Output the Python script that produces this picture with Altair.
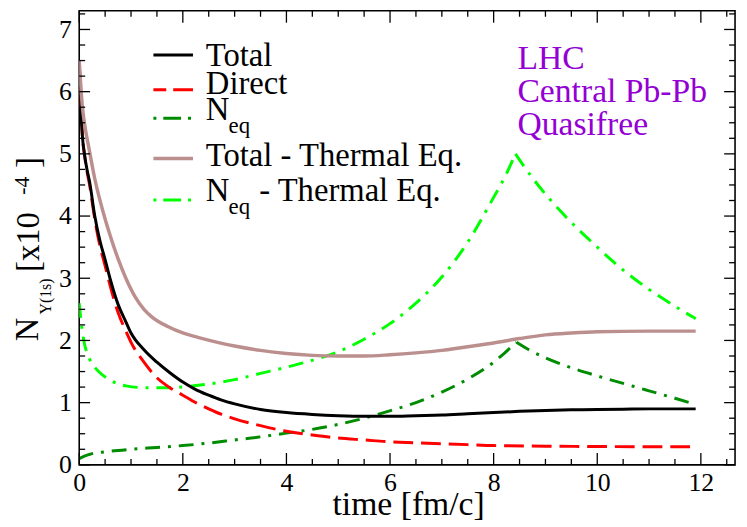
import altair as alt
import pandas as pd

# ---------------- data ----------------
t_total = [0, 0.03, 0.06, 0.1, 0.15, 0.2, 0.3, 0.4, 0.5, 0.6, 0.75, 0.9, 1.0, 1.25, 1.5, 1.75, 2.0, 2.25, 2.5, 2.75,
           3.0, 3.5, 4.0, 4.5, 5.0, 5.5, 6.0, 6.5, 7.0, 7.5, 8.0, 8.5, 9.0, 9.5, 10, 10.5, 11, 11.5, 11.9]
v_total = [6.5, 5.8, 5.3, 5.0, 4.75, 4.55, 4.0, 3.6, 3.3, 2.98, 2.58, 2.3, 2.12, 1.85, 1.65, 1.48, 1.33, 1.21, 1.12, 1.04,
           0.98, 0.89, 0.84, 0.81, 0.79, 0.78, 0.78, 0.79, 0.8, 0.82, 0.84, 0.86, 0.875, 0.885, 0.89, 0.895, 0.9, 0.9, 0.9]

t_direct = [0, 0.03, 0.06, 0.1, 0.15, 0.2, 0.3, 0.4, 0.5, 0.6, 0.75, 0.9, 1.0, 1.25, 1.5, 1.75, 2.0, 2.25, 2.5, 2.75,
            3.0, 3.5, 4.0, 4.5, 5.0, 5.5, 6.0, 6.5, 7.0, 7.5, 8.0, 9.0, 10, 11, 11.9]
v_direct = [6.5, 5.8, 5.3, 5.0, 4.72, 4.5, 3.95, 3.52, 3.2, 2.87, 2.45, 2.15, 1.97, 1.65, 1.4, 1.24, 1.12, 1.0, 0.9, 0.81,
            0.74, 0.63, 0.54, 0.48, 0.43, 0.4, 0.37, 0.355, 0.34, 0.325, 0.31, 0.3, 0.295, 0.29, 0.29]

t_neq = [0, 0.1, 0.25, 0.5, 1, 1.5, 2, 2.5, 3, 3.5, 4, 4.5, 5, 5.5, 6, 6.5, 7, 7.5, 8, 8.2, 8.44, 8.7, 9, 9.5, 10,
         10.5, 11, 11.5, 11.9]
v_neq = [0.1, 0.14, 0.18, 0.21, 0.25, 0.28, 0.31, 0.35, 0.4, 0.45, 0.51, 0.57, 0.65, 0.75, 0.87, 1.0, 1.17, 1.38, 1.65,
         1.79, 1.97, 1.84, 1.72, 1.56, 1.43, 1.31, 1.19, 1.07, 0.97]

t_total_th = [0, 0.03, 0.06, 0.1, 0.19, 0.3, 0.44, 0.6, 0.76, 0.9, 1.08, 1.25, 1.4, 1.72, 2.0, 2.29, 2.67, 3.0, 3.5,
              4.0, 4.5, 5.0, 5.5, 6.0, 6.5, 7.0, 7.5, 8.0, 8.5, 9.0, 9.5, 10, 11, 11.9]
v_total_th = [6.5, 6.1, 5.77, 5.5, 5.08, 4.6, 4.13, 3.68, 3.29, 3.0, 2.7, 2.5, 2.38, 2.22, 2.12, 2.05, 1.97, 1.91, 1.84,
              1.79, 1.76, 1.75, 1.75, 1.77, 1.8, 1.84, 1.9, 1.96, 2.03, 2.09, 2.12, 2.14, 2.15, 2.15]

t_neq_th = [0, 0.03, 0.06, 0.1, 0.15, 0.2, 0.3, 0.4, 0.6, 0.9, 1.3, 1.7, 2.3, 3, 3.5, 4, 4.5, 5, 5.5, 6, 6.5, 7, 7.5,
            8, 8.2, 8.42, 8.78, 9.29, 10, 10.43, 11, 11.5, 11.9]
v_neq_th = [2.6, 2.35, 2.15, 1.95, 1.8, 1.7, 1.57, 1.48, 1.36, 1.27, 1.24, 1.24, 1.28, 1.37, 1.47, 1.57, 1.68, 1.82,
            2.02, 2.27, 2.6, 3.02, 3.58, 4.3, 4.6, 5.0, 4.58, 4.08, 3.5, 3.18, 2.82, 2.55, 2.35]

x_major = [0, 2, 4, 6, 8, 10, 12]
x_minor = [0.5, 1, 1.5, 2.5, 3, 3.5, 4.5, 5, 5.5, 6.5, 7, 7.5, 8.5, 9, 9.5, 10.5, 11, 11.5, 12.5]
y_major = [0, 1, 2, 3, 4, 5, 6, 7]
y_minor = [0.25, 0.5, 0.75, 1.25, 1.5, 1.75, 2.25, 2.5, 2.75, 3.25, 3.5, 3.75, 4.25, 4.5, 4.75,
           5.25, 5.5, 5.75, 6.25, 6.5, 6.75, 7.25]

legend_labels = ["Total", "Direct", "N", "Total - Thermal Eq.", "N"]
info_lines = ["LHC", "Central Pb-Pb", "Quasifree"]

# ---------------- layout ----------------
W, H = 663, 459
XMAX, YMAX = 12.66, 7.30
FONT = "Liberation Serif"

xs = alt.Scale(domain=[0, XMAX], nice=False, zero=False)
ys = alt.Scale(domain=[0, YMAX], nice=False, zero=False)

x_axis = alt.Axis(values=x_major, format="d", ticks=False, tickSize=0, domain=False, grid=False,
                  labelFont=FONT, labelFontSize=26, labelColor="black", labelPadding=5, title=None,
                  labelFlush=False)
y_axis = alt.Axis(values=y_major, format="d", ticks=False, tickSize=0, domain=False, grid=False,
                  labelFont=FONT, labelFontSize=26, labelColor="black", labelPadding=8, title=None)


def series(t, v, color, width, dash=None, offset=0):
    """Line through the series; peaked series are split at the peak so the cusp stays sharp."""
    imax = max(range(len(v)), key=lambda i: v[i])
    parts = [(0, len(v))] if imax in (0, len(v) - 1) else [(0, imax + 1), (imax, len(v))]
    out = []
    for a, b in parts:
        df = pd.DataFrame({"t": t[a:b], "v": v[a:b]})
        kw = dict(color=color, strokeWidth=width, clip=True, interpolate="monotone")
        if dash:
            kw["strokeDash"] = dash
            kw["strokeDashOffset"] = offset
        out.append(alt.Chart(df).mark_line(**kw).encode(
            x=alt.X("t:Q", scale=xs, axis=x_axis),
            y=alt.Y("v:Q", scale=ys, axis=y_axis),
        ))
    return out


DASH = [20, 8]
DASHDOT = [15, 8, 3, 8]
GREEN = "#008C00"
LGREEN = "#00FF00"
RED = "#FF0000"
BROWN = "#BC8F8F"
PURPLE = "#9400D3"

lines = (series(t_neq, v_neq, GREEN, 3, DASHDOT)
         + series(t_neq_th, v_neq_th, LGREEN, 3, DASHDOT)
         + series(t_direct, v_direct, RED, 3, DASH)
         + series(t_total, v_total, "black", 3)
         + series(t_total_th, v_total_th, BROWN, 3.5))


# ticks (inward, on all four sides)
def xticks(vals, length):
    df = pd.DataFrame({"t": vals})
    b = alt.Chart(df).mark_rule(color="black", strokeWidth=1.3).encode(
        x=alt.X("t:Q", scale=xs), y=alt.value(H), y2=alt.value(H - length))
    t = alt.Chart(df).mark_rule(color="black", strokeWidth=1.3).encode(
        x=alt.X("t:Q", scale=xs), y=alt.value(0), y2=alt.value(length))
    return [b, t]


def yticks(vals, length):
    df = pd.DataFrame({"v": vals})
    l = alt.Chart(df).mark_rule(color="black", strokeWidth=1.3).encode(
        y=alt.Y("v:Q", scale=ys), x=alt.value(0), x2=alt.value(length))
    r = alt.Chart(df).mark_rule(color="black", strokeWidth=1.3).encode(
        y=alt.Y("v:Q", scale=ys), x=alt.value(W), x2=alt.value(W - length))
    return [l, r]


ticks = xticks(x_major, 12) + xticks(x_minor, 6) + yticks(y_major, 11) + yticks(y_minor, 6)


# text helpers (pixel placement of annotations)
def txt(s, x, y, size, color="black", angle=0, align="left", baseline="alphabetic"):
    kw = dict(text=s, font=FONT, fontSize=size, color=color, align=align, baseline=baseline)
    if angle:
        kw["angle"] = angle
    return alt.Chart(pd.DataFrame({"a": [0]})).mark_text(**kw).encode(
        x=alt.value(x), y=alt.value(y))


def seg(x1, x2, y, color, width, dash=None, offset=0):
    kw = dict(color=color, strokeWidth=width)
    if dash:
        kw["strokeDash"] = dash
        kw["strokeDashOffset"] = offset
    return alt.Chart(pd.DataFrame({"a": [0]})).mark_rule(**kw).encode(
        x=alt.value(x1), x2=alt.value(x2), y=alt.value(y))


LX1, LX2, TX = 75, 115, 128
LF = 33
SF = 23
legend = [
    seg(LX1, LX2, 44.7, "black", 3),
    txt(legend_labels[0], TX, 55.3, LF),
    seg(LX1, LX2, 79.7, RED, 3, [20, 7], 7),
    txt(legend_labels[1], TX, 83.7, LF),
    seg(LX1, LX2, 108.7, GREEN, 3, [3, 7, 18, 7]),
    txt(legend_labels[2], TX, 110.3, LF),
    txt("eq", 151, 123.7, SF),
    seg(LX1, LX2, 149.3, BROWN, 3.5),
    txt(legend_labels[3], TX, 157, LF),
    seg(LX1, LX2, 191.3, LGREEN, 3, [3, 7, 18, 7]),
    txt(legend_labels[4], TX, 192, LF),
    txt("eq", 151, 205, SF),
    txt("- Thermal Eq.", 182, 192, LF),
]

info = [
    txt(info_lines[0], 443, 58.7, 34, PURPLE),
    txt(info_lines[1], 443, 92, 34, PURPLE),
    txt(info_lines[2], 443, 125.3, 34, PURPLE),
]

titles = [
    txt("time [fm/c]", 333, 510, 34, align="center"),
    txt("N", -42, 334, 33, angle=270),
    txt("Υ(1s)", -29, 307, 16, angle=270),
    txt("[x10", -41, 264, 33, angle=270),
    txt("-4", -51, 186, 22, angle=270),
    txt("]", -41, 159, 33, angle=270),
]

chart = alt.layer(*lines, *ticks, *legend, *info, *titles).properties(
    width=W, height=H,
    autosize=alt.AutoSizeParams(type="none"),
    padding={"left": 72, "top": 0, "right": 4, "bottom": 60},
).configure_view(stroke="black", strokeWidth=1.6)

chart.save("out.html", embed_options={"renderer": "svg", "actions": False})
